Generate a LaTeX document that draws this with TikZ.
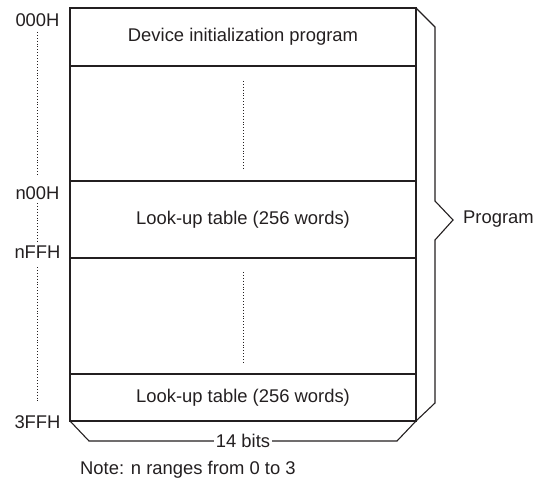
\documentclass[tikz,border=0pt]{standalone}
\usepackage{fontspec}
\setmainfont{Liberation Sans}
\definecolor{inkGray}{HTML}{231F20}
\begin{document}
\begin{tikzpicture}[x=1pt,y=-1pt,%%
  boxStyle/.style={-,line width=1.1pt,draw=inkGray,line join=miter},%%
  dotStyle/.style={-,dotted,line width=0.9pt,draw=inkGray},%%
  labelStyle/.style={text=inkGray,inner sep=0pt,font=\fontsize{18.4}{22}\selectfont},%%
  gapStyle/.style={labelStyle,fill=white,inner xsep=2pt}%%
]
%%
%%
\pgfmathsetmacro{\xleft}{70}
\pgfmathsetmacro{\xright}{416}
\pgfmathsetmacro{\xmid}{243}
\pgfmathsetmacro{\xaddr}{37.5}
\pgfmathsetmacro{\xbrace}{435}
%%
\useasboundingbox (0,0) rectangle (545,481);
%%
\coordinate (topLeft) at (\xleft,8);
\coordinate (bottomRight) at (\xright,421);
%%
%% Draw the memory map and its rows.
\draw[boxStyle] (topLeft) rectangle (bottomRight);
\foreach \yrow in {66,181,258,374}
  \draw[boxStyle] (\xleft,\yrow) -- (\xright,\yrow);
%% Label the rows.
\node[labelStyle] (initProg) at (\xmid,37) {Device initialization program};
\node[labelStyle] (lutMid) at (\xmid,219.5) {Look-up table (256 words)};
\node[labelStyle] (lutLast) at (\xmid,397.5) {Look-up table (256 words)};
%% Dots in the empty rows.
\draw[dotStyle] (\xmid,81) -- (\xmid,170);
\draw[dotStyle] (\xmid,272) -- (\xmid,364);
%%
%% Addresses on the left.
\node[labelStyle] (addrFirst) at (\xaddr,20) {000H};
\node[labelStyle] (addrStart) at (\xaddr,193) {n00H};
\node[labelStyle] (addrEnd) at (\xaddr,252) {nFFH};
\node[labelStyle] (addrLast) at (\xaddr,422) {3FFH};
\draw[dotStyle] (\xaddr,32) -- (\xaddr,175);
\draw[dotStyle] (\xaddr,203) -- (\xaddr,243);
\draw[dotStyle] (\xaddr,267) -- (\xaddr,402);
%%
%% Brace for the program area.
\coordinate (braceTip) at (453,220);
\draw[boxStyle] (\xright,8) -- (\xbrace,27) -- (\xbrace,201) -- (braceTip)
  -- (\xbrace,240) -- (\xbrace,403) -- (bottomRight);
\node[labelStyle,anchor=west] (progLabel) at (463,219) {Program};
%%
%% Width of a word.
\draw[boxStyle] (\xleft,421) -- (89,441) -- (397,441) -- (bottomRight);
\node[gapStyle] (wordWidth) at (\xmid,441) {14 bits};
%%
\node[labelStyle,anchor=west] (noteText) at (80,470) {Note: n ranges from 0 to 3};
\end{tikzpicture}
\end{document}
